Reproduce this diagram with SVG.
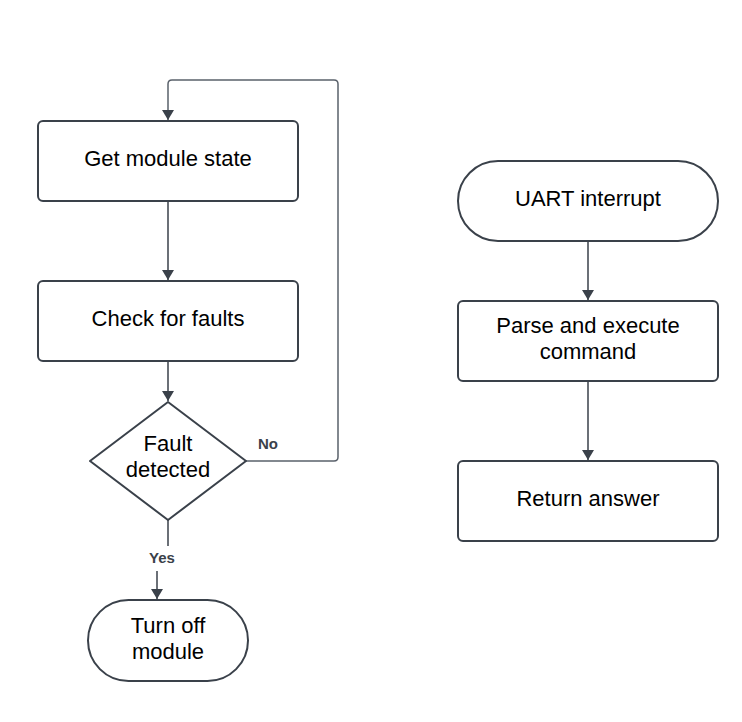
<svg xmlns="http://www.w3.org/2000/svg" width="742" height="722" viewBox="0 0 742 722">
<style>
.node{fill:#ffffff;stroke:#3a414a;stroke-width:2}
.lbl{font-family:"Liberation Sans",Arial,sans-serif;font-size:22px;fill:#000000;text-anchor:middle}
.edge{fill:none;stroke:#3a414a;stroke-width:1.5}
.loop{fill:none;stroke:#5a616b;stroke-width:1.5}
.elbl{font-family:"Liberation Sans",Arial,sans-serif;font-size:15px;font-weight:bold;fill:#3a414a;text-anchor:middle}
</style>
<defs>
<marker id="arr" viewBox="0 0 10 12" refX="10" refY="6" markerWidth="10" markerHeight="12" markerUnits="userSpaceOnUse" orient="auto">
<path d="M0,0 L10,6 L0,12 Z" fill="#3a414a"/>
</marker>
</defs>
<rect width="742" height="722" fill="#ffffff"/>
<g id="connectors">
<path class="loop" d="M246,461 H334 Q338,461 338,457 V84 Q338,80 334,80 H172 Q168,80 168,84 V120" marker-end="url(#arr)"/>
<path class="edge" d="M168,201 V280" marker-end="url(#arr)"/>
<path class="edge" d="M168,361 V401" marker-end="url(#arr)"/>
<path class="edge" d="M168,520 V546"/>
<path class="edge" d="M157,571 V599" marker-end="url(#arr)"/>
<path class="edge" d="M588,241 V300" marker-end="url(#arr)"/>
<path class="edge" d="M588,381 V460" marker-end="url(#arr)"/>
<text class="elbl" x="268" y="449">No</text>
<text class="elbl" x="162" y="563">Yes</text>
</g>
<g id="get-state">
<rect class="node" x="38" y="121" width="260" height="80" rx="5"/>
<text class="lbl" x="168" y="166">Get module state</text>
</g>
<g id="check-faults">
<rect class="node" x="38" y="281" width="260" height="80" rx="5"/>
<text class="lbl" x="168" y="326">Check for faults</text>
</g>
<g id="fault-detected">
<path class="node" d="M168,402 L246,461 L168,520 L90,461 Z" stroke-linejoin="round"/>
<text class="lbl" x="168" y="451">Fault</text>
<text class="lbl" x="168" y="477">detected</text>
</g>
<g id="turn-off">
<rect class="node" x="88" y="600" width="160" height="81" rx="40.5"/>
<text class="lbl" x="168" y="633">Turn off</text>
<text class="lbl" x="168" y="659">module</text>
</g>
<g id="uart">
<rect class="node" x="458" y="161" width="260" height="80" rx="40"/>
<text class="lbl" x="588" y="206">UART interrupt</text>
</g>
<g id="parse">
<rect class="node" x="458" y="301" width="260" height="80" rx="5"/>
<text class="lbl" x="588" y="333">Parse and execute</text>
<text class="lbl" x="588" y="359">command</text>
</g>
<g id="return">
<rect class="node" x="458" y="461" width="260" height="80" rx="5"/>
<text class="lbl" x="588" y="506">Return answer</text>
</g>
</svg>
